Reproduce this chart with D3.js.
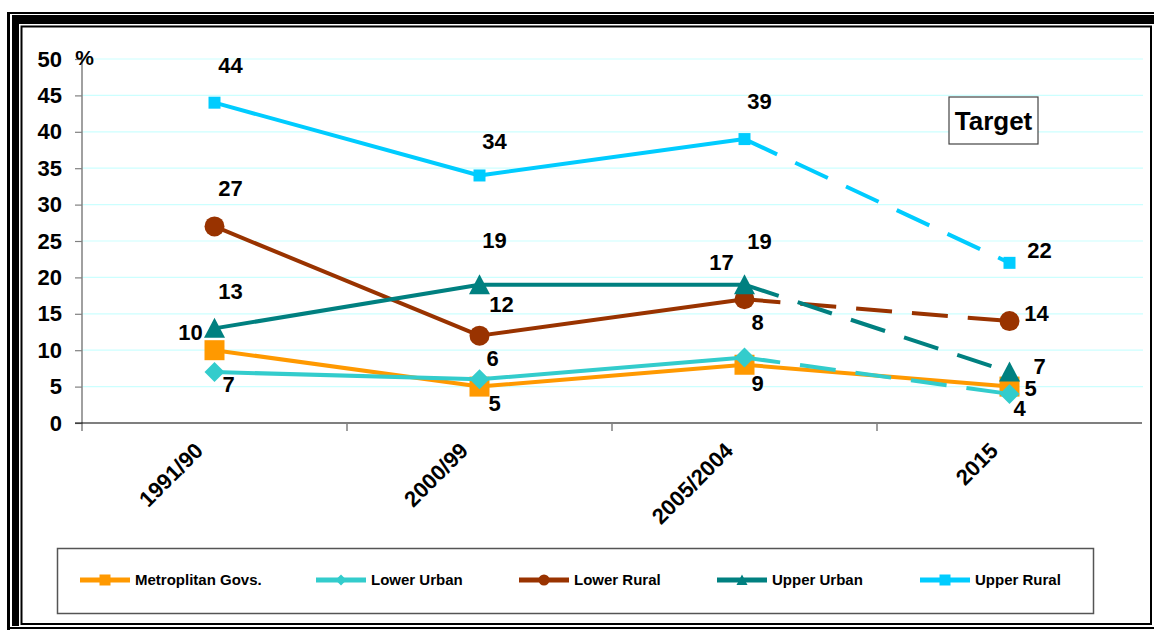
<!DOCTYPE html>
<html>
<head>
<meta charset="utf-8">
<script src="https://cdn.jsdelivr.net/npm/d3@7"></script>
<style>
  html, body { margin: 0; padding: 0; background: #fff; }
  svg { display: block; font-family: "Liberation Sans", Arial, sans-serif; }
</style>
</head>
<body>
<svg id="chart" width="1154" height="630"></svg>
<script>
// Survey rounds on the x axis
const categories = ["1991/90", "2000/99", "2005/2004", "2015"];

// Poverty rates (%) by region
const metropolitan = [10, 5, 8, 5];
const lowerUrban   = [7, 6, 9, 4];
const lowerRural   = [27, 12, 17, 14];
const upperUrban   = [13, 19, 19, 7];
const upperRural   = [44, 34, 39, 22];

const seriesNames = ["Metroplitan Govs.", "Lower Urban", "Lower Rural", "Upper Urban", "Upper Rural"];
const yTicks = [0, 5, 10, 15, 20, 25, 30, 35, 40, 45, 50];
const yUnit = "%";
const targetLabel = "Target";

// Presentation of each series: colour, marker, whether the target segment is dashed,
// and where each value label sits relative to its point.
const styles = {
  "Metroplitan Govs.": { color: "#FF9900", marker: "square", size: 20, dashed: false,
                         offsets: [[-24, -18], [15, 16], [13, -43], [21, 1]] },
  "Lower Urban":       { color: "#33CCCC", marker: "diamond", size: 20, dashed: true,
                         offsets: [[14, 12], [13, -21], [13, 26], [10, 14]] },
  "Lower Rural":       { color: "#993300", marker: "circle", size: 20, dashed: true,
                         offsets: [[16, -38], [22, -32], [-23, -37], [27, -8]] },
  "Upper Urban":       { color: "#008080", marker: "triangle", size: 21, dashed: true,
                         offsets: [[16, -37], [15, -45], [15, -44], [30, -6]] },
  "Upper Rural":       { color: "#00CCFF", marker: "square", size: 12, dashed: true,
                         offsets: [[16, -38], [15, -34], [15, -38], [30, -13]] }
};

const series = [
  { name: seriesNames[4], values: upperRural },
  { name: seriesNames[2], values: lowerRural },
  { name: seriesNames[0], values: metropolitan },
  { name: seriesNames[3], values: upperUrban },
  { name: seriesNames[1], values: lowerUrban }
];

const svg = d3.select("#chart");

// ---- outer decorative frame ----
const frame = svg.append("g");
frame.append("rect").attr("x", 7).attr("y", 12).attr("width", 1160).attr("height", 2).attr("fill", "#000");
frame.append("rect").attr("x", 7).attr("y", 12).attr("width", 3).attr("height", 618).attr("fill", "#000");
frame.append("rect").attr("x", 7).attr("y", 627).attr("width", 1160).attr("height", 2).attr("fill", "#000");
frame.append("rect").attr("x", 12).attr("y", 15).attr("width", 1160).attr("height", 9).attr("fill", "#000");
frame.append("rect").attr("x", 12).attr("y", 15).attr("width", 7).attr("height", 611).attr("fill", "#000");
frame.append("rect").attr("x", 21.5).attr("y", 26.5).attr("width", 1129.5).attr("height", 597.5)
  .attr("fill", "none").attr("stroke", "#000").attr("stroke-width", 2);

// ---- scales ----
const x = d3.scaleBand().domain(categories).range([82, 1142]).padding(0);
const xc = c => x(c) + x.bandwidth() / 2;
const y = d3.scaleLinear().domain([0, 50]).range([423, 59]);

// ---- gridlines ----
svg.append("g")
  .selectAll("line")
  .data(yTicks.filter(t => t > 0))
  .join("line")
  .attr("x1", 82).attr("x2", 1143)
  .attr("y1", d => y(d)).attr("y2", d => y(d))
  .attr("stroke", "#CCFFFF").attr("stroke-width", 1.2);

// ---- y axis ----
const yAxis = svg.append("g").attr("transform", "translate(82,0)")
  .call(d3.axisLeft(y).tickValues(yTicks).tickSize(7).tickPadding(13));
yAxis.select(".domain").remove();
yAxis.selectAll(".tick line").attr("stroke", "#808080").attr("stroke-width", 1.2);
yAxis.selectAll(".tick text")
  .attr("font-family", "Liberation Sans, Arial, sans-serif")
  .attr("font-size", 22).attr("font-weight", "bold").attr("fill", "#000");
svg.append("line").attr("x1", 82).attr("x2", 82).attr("y1", 59).attr("y2", 431)
  .attr("stroke", "#808080").attr("stroke-width", 1.5);
svg.append("text").attr("x", 84.5).attr("y", 65).attr("text-anchor", "middle")
  .attr("font-size", 21).attr("font-weight", "bold").text(yUnit);

// ---- x axis ----
const xAxis = svg.append("g").attr("transform", "translate(0,423)")
  .call(d3.axisBottom(x).tickSize(0).tickFormat(""));
xAxis.select(".domain").remove();
svg.append("line").attr("x1", 75).attr("x2", 1142).attr("y1", 423).attr("y2", 423)
  .attr("stroke", "#000").attr("stroke-width", 1.2);
svg.append("g").selectAll("line")
  .data(categories.slice(1))
  .join("line")
  .attr("x1", d => x(d)).attr("x2", d => x(d))
  .attr("y1", 423).attr("y2", 431)
  .attr("stroke", "#808080").attr("stroke-width", 1.5);
svg.append("g").selectAll("text")
  .data(categories)
  .join("text")
  .attr("transform", d => `translate(${xc(d) - 10},${452}) rotate(-45)`)
  .attr("text-anchor", "end")
  .attr("font-size", 22).attr("font-weight", "bold")
  .text(d => d);

// ---- marker drawing ----
function markerPath(type, size) {
  const h = size / 2;
  if (type === "square") return `M${-h},${-h}h${size}v${size}h${-size}Z`;
  if (type === "diamond") return `M0,${-h}L${h},0L0,${h}L${-h},0Z`;
  if (type === "triangle") return `M0,${-h}L${h},${h * 0.9}L${-h},${h * 0.9}Z`;
  return d3.symbol(d3.symbolCircle, Math.PI * h * h)();
}

const line = d3.line().x(d => xc(d.c)).y(d => y(d.v));

// ---- series lines ----
const linesG = svg.append("g");
series.forEach(s => {
  const st = styles[s.name];
  const pts = s.values.map((v, i) => ({ c: categories[i], v }));
  linesG.append("path")
    .attr("d", line(pts.slice(0, 3)))
    .attr("fill", "none").attr("stroke", st.color).attr("stroke-width", 4)
    .attr("stroke-linejoin", "round");
  linesG.append("path")
    .attr("d", line(pts.slice(2)))
    .attr("fill", "none").attr("stroke", st.color).attr("stroke-width", 4)
    .attr("stroke-dasharray", st.dashed ? "36,20" : null);
  linesG.append("g").selectAll("path")
    .data(pts)
    .join("path")
    .attr("transform", d => `translate(${xc(d.c)},${y(d.v)})`)
    .attr("d", markerPath(st.marker, st.size))
    .attr("fill", st.color);
});

// ---- value labels ----
const labelsG = svg.append("g");
series.forEach(s => {
  const st = styles[s.name];
  labelsG.append("g").selectAll("text")
    .data(s.values.map((v, i) => ({ c: categories[i], v, o: st.offsets[i] })))
    .join("text")
    .attr("x", d => xc(d.c) + d.o[0])
    .attr("y", d => y(d.v) + d.o[1])
    .attr("dy", "0.36em")
    .attr("text-anchor", "middle")
    .attr("font-size", 22).attr("font-weight", "bold")
    .text(d => d.v);
});

// ---- target box ----
svg.append("rect").attr("x", 949).attr("y", 97).attr("width", 89).attr("height", 47)
  .attr("fill", "#fff").attr("stroke", "#444").attr("stroke-width", 1.2);
svg.append("text").attr("x", 993.5).attr("y", 121).attr("dy", "0.36em")
  .attr("text-anchor", "middle").attr("font-size", 26).attr("font-weight", "bold")
  .text(targetLabel);

// ---- legend ----
const legend = svg.append("g");
legend.append("rect").attr("x", 57.5).attr("y", 548.5).attr("width", 1036).attr("height", 65)
  .attr("fill", "#fff").attr("stroke", "#555").attr("stroke-width", 1.5);
const legendX = [80, 316, 519, 717, 920];
seriesNames.forEach((name, i) => {
  const st = styles[name];
  const g = legend.append("g").attr("transform", `translate(${legendX[i]},580)`);
  g.append("line").attr("x1", 0).attr("x2", 50).attr("y1", 0).attr("y2", 0)
    .attr("stroke", st.color).attr("stroke-width", 5);
  g.append("path").attr("transform", "translate(25,0)")
    .attr("d", markerPath(st.marker, 11))
    .attr("fill", st.color);
  g.append("text").attr("x", 55).attr("y", 0).attr("dy", "0.36em")
    .attr("font-size", 15).attr("font-weight", "bold").text(name);
});
</script>
</body>
</html>
